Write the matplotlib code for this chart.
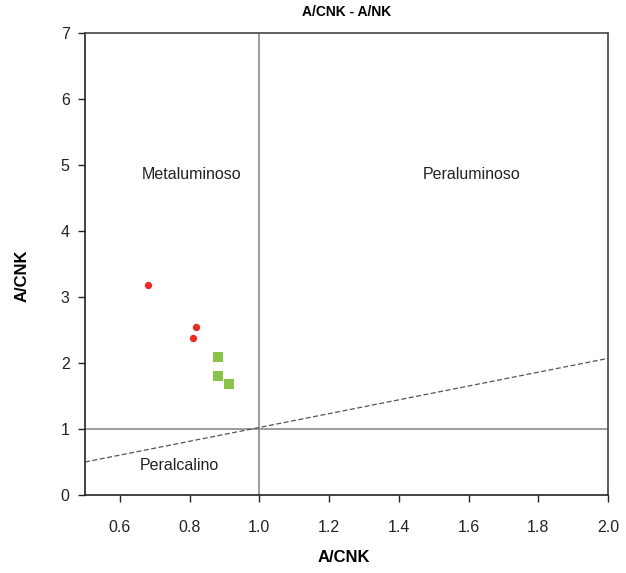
import matplotlib
matplotlib.use("Agg")
import matplotlib.pyplot as plt

plt.rcParams['font.family'] = ['Liberation Sans', 'DejaVu Sans']

red_x = [0.681, 0.819, 0.810]
red_y = [3.18, 2.545, 2.38]
green_x = [0.882, 0.882, 0.914]
green_y = [2.09, 1.80, 1.68]
dash_x = [0.5, 2.0]
dash_y = [0.5, 2.07]
x_ticks = [0.6, 0.8, 1.0, 1.2, 1.4, 1.6, 1.8, 2.0]
y_ticks = [0, 1, 2, 3, 4, 5, 6, 7]

fig = plt.figure(figsize=(6.26, 5.73), dpi=100)
ax = fig.add_axes([85/626, 78/573, 523/626, 462/573])
ax.set_xlim(0.5, 2.0)
ax.set_ylim(0, 7)

ax.axvline(1.0, color='#8c8c8c', lw=1.2, zorder=1)
ax.axhline(1.0, color='#8c8c8c', lw=1.2, zorder=1)
ax.plot(dash_x, dash_y, color='#555555', lw=0.9, ls=(0, (4, 2)), zorder=2)

ax.scatter(red_x, red_y, s=28, marker='o', color='#ee2a24', zorder=3, linewidths=0)
ax.scatter(green_x, green_y, s=55, marker='s', color='#8bc34a', zorder=3, linewidths=0)

fs = 11.5
ax.text(0.807, 4.85, 'Metaluminoso', ha='center', va='center', fontsize=fs, color='#222222')
ax.text(1.609, 4.85, 'Peraluminoso', ha='center', va='center', fontsize=fs, color='#222222')
ax.text(0.77, 0.45, 'Peralcalino', ha='center', va='center', fontsize=fs, color='#222222')

ax.set_xticks(x_ticks)
ax.set_xticklabels([f"{v:.1f}" for v in x_ticks])
ax.set_yticks(y_ticks)
ax.set_yticklabels([str(v) for v in y_ticks])
ax.tick_params(axis='both', labelsize=fs, length=5, width=1, colors='#222222', pad=6)
ax.tick_params(axis='x', pad=13)

for s in ['left', 'bottom']:
    ax.spines[s].set_color('#222222')
    ax.spines[s].set_linewidth(1.2)
for s in ['top', 'right']:
    ax.spines[s].set_color('#444444')
    ax.spines[s].set_linewidth(1.2)

ax.set_xlabel('A/CNK', fontsize=12, fontweight='bold', va='center')
ax.xaxis.set_label_coords(0.495, -(558 - 495) / 462)
ax.set_ylabel('A/CNK', fontsize=12, fontweight='bold', va='center')
ax.yaxis.set_label_coords(-(85 - 22) / 523, (495 - 276) / 462)
ax.text(0.5, 1 + (33 - 12) / 462, 'A/CNK - A/NK', transform=ax.transAxes,
        ha='center', va='center', fontsize=10, fontweight='bold')

fig.savefig('out.png', dpi=100)
